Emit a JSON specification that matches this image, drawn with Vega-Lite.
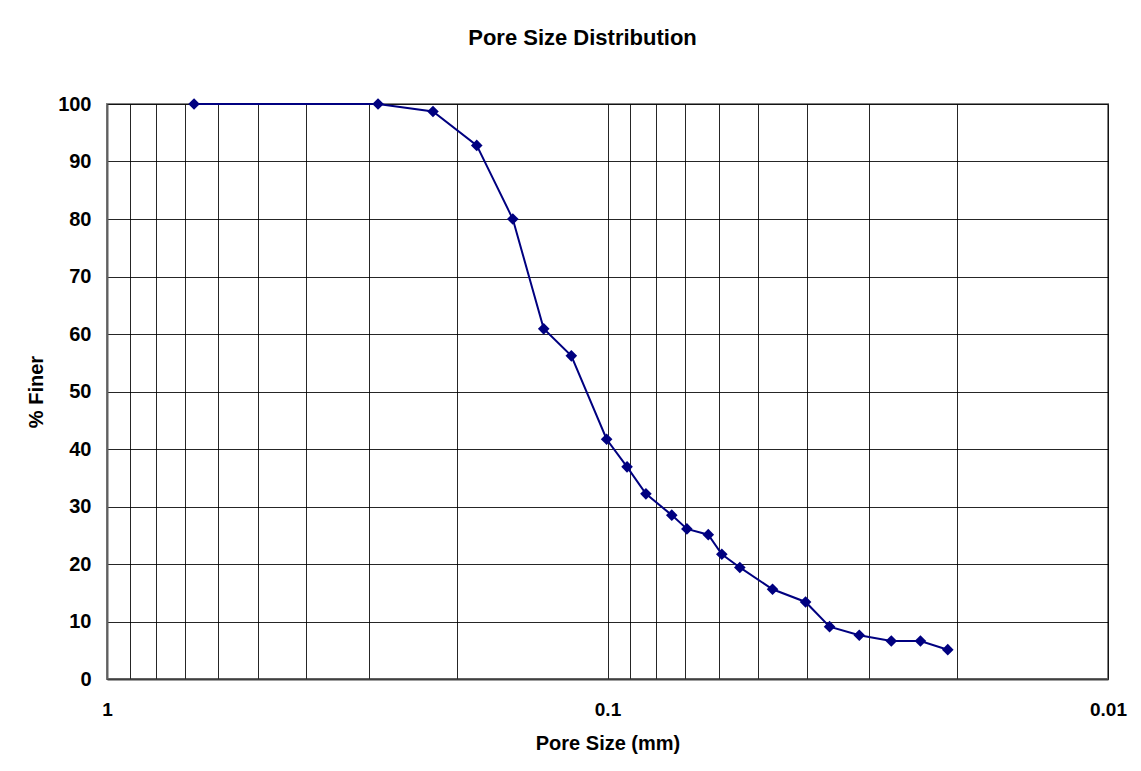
{
  "$schema": "https://vega.github.io/schema/vega-lite/v6.json",
  "width": 1001,
  "height": 575,
  "autosize": {"type": "none"},
  "padding": {"left": 107, "top": 104, "right": 33, "bottom": 92},
  "background": "white",
  "title": {
    "text": "Pore Size Distribution",
    "font": "Liberation Sans",
    "fontSize": 22,
    "fontWeight": "bold",
    "color": "#000000",
    "anchor": "middle",
    "frame": "group",
    "dx": -25,
    "baseline": "alphabetic",
    "offset": 27
  },
  "config": {
    "view": {"stroke": "#808080", "strokeWidth": 2},
    "font": "Liberation Sans"
  },
  "data": {
    "values": [
      {"size": 0.670, "finer": 100},
      {"size": 0.2874, "finer": 100},
      {"size": 0.2232, "finer": 98.7},
      {"size": 0.1825, "finer": 92.8},
      {"size": 0.1546, "finer": 80.0},
      {"size": 0.1341, "finer": 60.9},
      {"size": 0.1181, "finer": 56.2},
      {"size": 0.1004, "finer": 41.7},
      {"size": 0.0914, "finer": 36.9},
      {"size": 0.0838, "finer": 32.2},
      {"size": 0.0744, "finer": 28.5},
      {"size": 0.0694, "finer": 26.1},
      {"size": 0.0629, "finer": 25.1},
      {"size": 0.0591, "finer": 21.7},
      {"size": 0.0544, "finer": 19.4},
      {"size": 0.0468, "finer": 15.6},
      {"size": 0.0402, "finer": 13.4},
      {"size": 0.0360, "finer": 9.1},
      {"size": 0.0314, "finer": 7.6},
      {"size": 0.0271, "finer": 6.6},
      {"size": 0.0237, "finer": 6.6},
      {"size": 0.0209, "finer": 5.1}
    ]
  },
  "encoding": {
    "x": {
      "field": "size",
      "type": "quantitative",
      "scale": {"type": "log", "domain": [0.01, 1], "reverse": true, "nice": false},
      "axis": {
        "title": "Pore Size (mm)",
        "titleFont": "Liberation Sans",
        "titleFontSize": 20,
        "titleFontWeight": "bold",
        "titleColor": "#000000",
        "titlePadding": 14,
        "values": [1, 0.9, 0.8, 0.7, 0.6, 0.5, 0.4, 0.3, 0.2, 0.1, 0.09, 0.08, 0.07, 0.06, 0.05, 0.04, 0.03, 0.02, 0.01],
        "labelExpr": "datum.value == 1 || datum.value == 0.1 || datum.value == 0.01 ? format(datum.value, '~g') : ''",
        "labelFont": "Liberation Sans",
        "labelFontSize": 19,
        "labelFontWeight": "bold",
        "labelColor": "#000000",
        "labelPadding": 21,
        "labelOverlap": false,
        "labelFlush": false,
        "ticks": false,
        "tickSize": 0,
        "grid": true,
        "gridColor": "#000000",
        "gridWidth": 1,
        "gridOpacity": 0.85,
        "domainColor": "#404040",
        "domainWidth": 2
      }
    },
    "y": {
      "field": "finer",
      "type": "quantitative",
      "scale": {"domain": [0, 100], "nice": false, "zero": true},
      "axis": {
        "title": "% Finer",
        "titleFont": "Liberation Sans",
        "titleFontSize": 20,
        "titleFontWeight": "bold",
        "titleColor": "#000000",
        "titlePadding": 11,
        "values": [0, 10, 20, 30, 40, 50, 60, 70, 80, 90, 100],
        "labelFont": "Liberation Sans",
        "labelFontSize": 20,
        "labelFontWeight": "bold",
        "labelColor": "#000000",
        "labelPadding": 16,
        "labelOverlap": false,
        "ticks": false,
        "tickSize": 0,
        "grid": true,
        "gridColor": "#000000",
        "gridWidth": 1,
        "gridOpacity": 0.85,
        "domainColor": "#606060",
        "domainWidth": 2
      }
    }
  },
  "layer": [
    {
      "mark": {"type": "line", "color": "#000080", "strokeWidth": 2}
    },
    {
      "mark": {"type": "point", "shape": "diamond", "filled": true, "color": "#000080", "size": 135, "opacity": 1}
    }
  ]
}
